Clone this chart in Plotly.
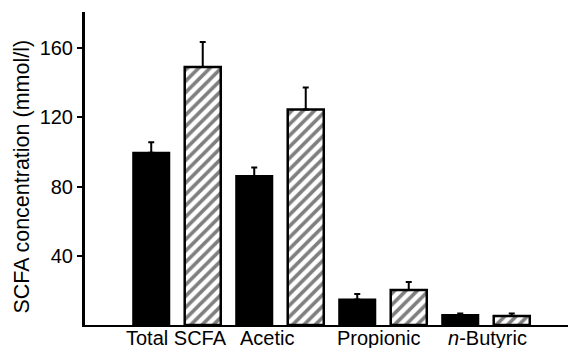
import plotly.graph_objects as go

# SCFA concentrations (mmol/l), mean and upper SEM
categories = ["Total SCFA", "Acetic", "Propionic", "<i>n</i>-Butyric"]
solid_values = [99.5, 86.0, 14.8, 5.8]
solid_err = [6.0, 5.0, 3.1, 0.9]
hatched_values = [149.0, 124.5, 20.2, 5.2]
hatched_err = [14.5, 12.7, 4.6, 1.5]
y_ticks = [40, 80, 120, 160]
label_shift = [0, -13, -5, 1]

FONT = "Liberation Sans, Arial, Helvetica, sans-serif"
x_idx = list(range(len(categories)))

fig = go.Figure()
fig.add_trace(go.Bar(
    x=x_idx, y=solid_values,
    marker=dict(color="black", line=dict(color="black", width=2)),
    error_y=dict(type="data", symmetric=False, array=solid_err,
                 arrayminus=[0] * len(solid_err),
                 color="black", thickness=2, width=3),
    showlegend=False,
))
fig.add_trace(go.Bar(
    x=x_idx, y=hatched_values,
    marker=dict(color="white", line=dict(color="black", width=2.5),
                pattern=dict(shape="/", fgcolor="black", bgcolor="white",
                             size=8, solidity=0.45, fillmode="overlay")),
    error_y=dict(type="data", symmetric=False, array=hatched_err,
                 arrayminus=[0] * len(hatched_err),
                 color="black", thickness=2, width=3),
    showlegend=False,
))

# category labels below the axis
for i, (name, dx) in enumerate(zip(categories, label_shift)):
    fig.add_annotation(x=i, y=0, xref="x", yref="paper", text=name,
                       showarrow=False, xanchor="center", yanchor="top",
                       xshift=dx, yshift=0,
                       font=dict(family=FONT, size=20, color="black"))

# rotated y-axis title
fig.add_annotation(x=0, y=0.5, xref="paper", yref="paper",
                   text="SCFA concentration (mmol/l)", textangle=-90,
                   showarrow=False, xanchor="center", yanchor="middle",
                   xshift=-64, yshift=-8,
                   font=dict(family=FONT, size=21.5, color="black"))

fig.update_layout(
    width=573, height=348,
    margin=dict(l=85, r=5, t=12, b=23),
    paper_bgcolor="white", plot_bgcolor="white",
    barmode="group", bargap=0, bargroupgap=0.3,
    xaxis=dict(range=[-0.893, 3.796], showticklabels=False, ticks="",
               showgrid=False, zeroline=False,
               showline=True, linecolor="black", linewidth=2),
    yaxis=dict(range=[0, 180.8], tickvals=y_ticks,
               ticktext=[str(v) for v in y_ticks],
               ticks="outside", ticklen=5, tickwidth=2, tickcolor="black",
               showgrid=False, zeroline=False,
               showline=True, linecolor="black", linewidth=3,
               tickfont=dict(family=FONT, size=20, color="black")),
)

fig.write_html("out.html")
